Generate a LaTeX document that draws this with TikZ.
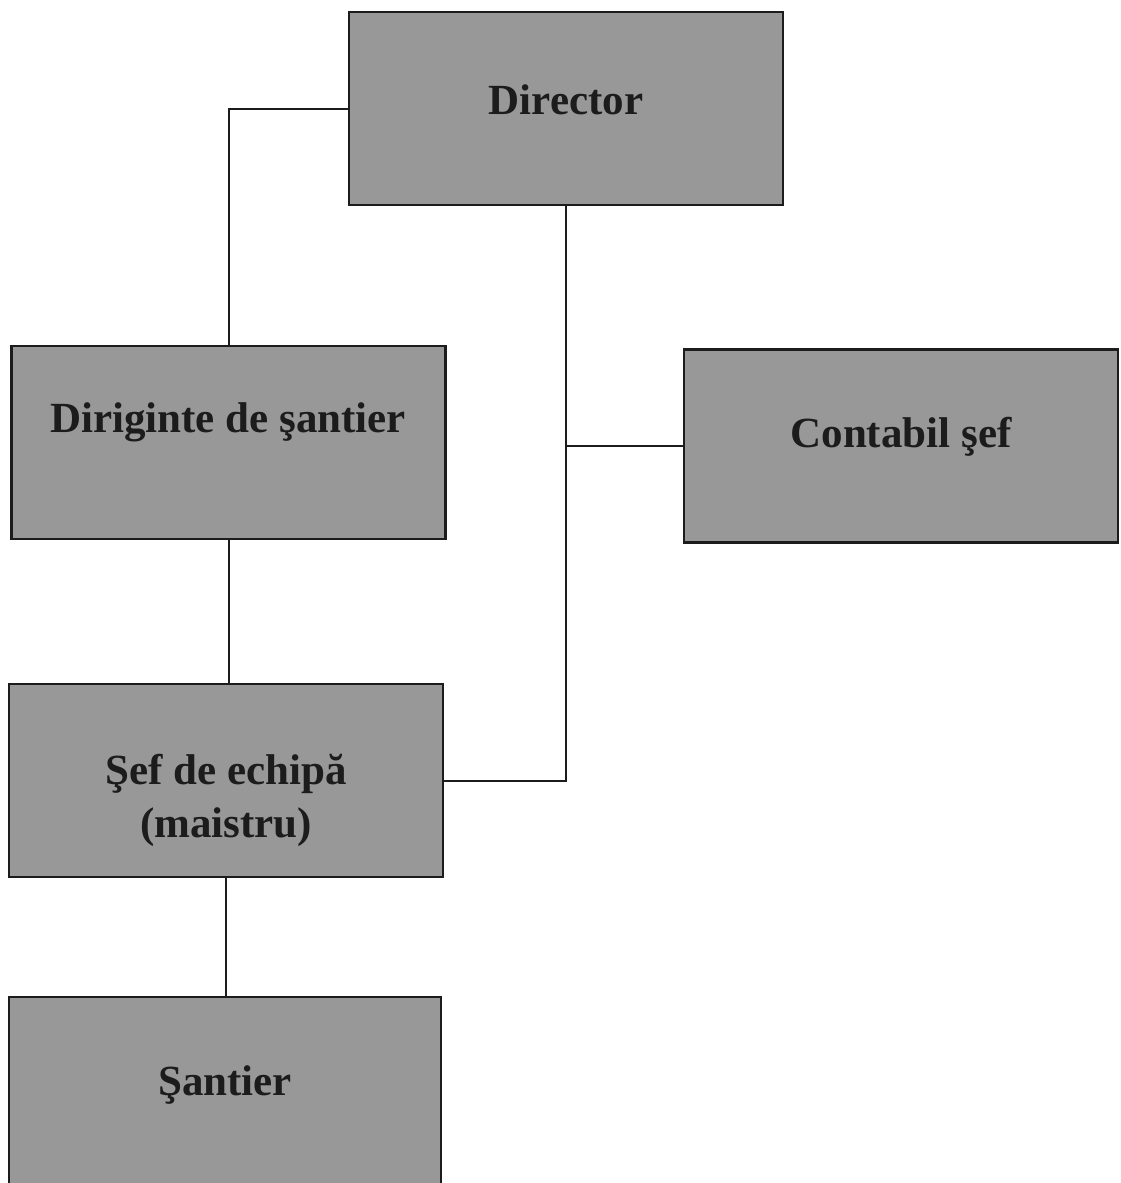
\documentclass[tikz,border=0pt]{standalone}
\usepackage{fontspec}
\setmainfont{Liberation Serif}
\usetikzlibrary{calc}
\definecolor{boxgray}{RGB}{152,152,152}
\definecolor{inkdark}{RGB}{28,28,28}
\begin{document}
\begin{tikzpicture}[x=1pt,y=-1pt,
  orgbox/.style={draw=inkdark,line width=2.2pt,fill=boxgray,rectangle,inner sep=0pt,minimum width=434pt,minimum height=193pt},
  lbl/.style={text=inkdark,font=\fontsize{43}{53}\selectfont\bfseries,align=center,inner sep=0pt},
  conn/.style={draw=inkdark,line width=2pt}]
\useasboundingbox (0,0) rectangle (1120,1183);
\fill[white] (0,0) rectangle (1120,1183);
\begin{scope}
\clip (0,0) rectangle (1120,1183);
\node[orgbox] (dir) at (566,108.5) {};
\node[orgbox] (dig) at (228.5,442.5) {};
\node[orgbox] (con) at (901,446) {};
\node[orgbox] (sef) at (226,780.5) {};
\node[orgbox,minimum width=432pt] (san) at (225,1093.5) {};
\end{scope}
\node[lbl] (tdir) at (566,100) {Director};
\node[lbl] (tdig) at (228,422) {Diriginte de şantier};
\node[lbl] (tcon) at (901,437) {Contabil şef};
\node[lbl] (tsef) at (226,800) {Şef de echipă\\(maistru)};
\node[lbl] (tsan) at (225,1085) {Şantier};
\draw[conn] (dir.west) -| (dig.north);
\draw[conn] (dir.south) |- (sef.east);
\coordinate (br) at (dir.south |- con.west);
\draw[conn] (br) -- (con.west);
\draw[conn] (dig.south) -- (dig.south |- sef.north);
\draw[conn] (sef.south) -- (sef.south |- san.north);
\end{tikzpicture}
\end{document}
